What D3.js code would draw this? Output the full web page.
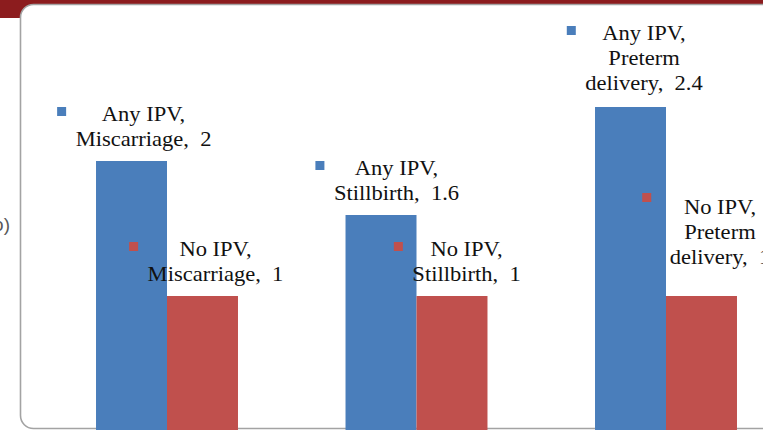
<!DOCTYPE html>
<html>
<head>
<meta charset="utf-8">
<script src="https://cdn.jsdelivr.net/npm/d3@7"></script>
<style>
  html, body { margin: 0; padding: 0; background: #ffffff; }
  svg { display: block; }
  .lbl { font-family: "Liberation Serif", "Times New Roman", serif; font-size: 20.5px; fill: #111; white-space: pre; }
</style>
</head>
<body>
<svg id="chart" width="763" height="430"></svg>
<script>
// Outcome categories and the two exposure groups
const categories = ["Miscarriage", "Stillbirth", "Preterm delivery"];
const seriesNames = ["Any IPV", "No IPV"];
const anyIpv = [2, 1.6, 2.4];
const noIpv = [1, 1, 1];
const seriesColors = ["#4a7ebb", "#c0504d"];

// Nudges for individual data labels: [text dx, text dy, key dx, key dy]
const labelNudge = [
  [[-1, 0, 0, 0], [0, 0, 0, 0]],
  [[2.5, 0, 0, 0], [1.5, 0, 0, 0]],
  [[0.5, -2, 0, 0], [5.5, -17, -9, -7]]
];

const W = 763, H = 430;
const svg = d3.select("#chart");

// Slide header band and framed panel
svg.append("rect").attr("x", 0).attr("y", 0).attr("width", W).attr("height", 18).attr("fill", "#8c1c1e");
svg.append("rect")
  .attr("x", 20.5).attr("y", 4.5).attr("width", 780).attr("height", 424)
  .attr("rx", 13).attr("ry", 13)
  .attr("fill", "#ffffff").attr("stroke", "#a3a3a3").attr("stroke-width", 1.6);

// Axis title, mostly outside the panel
svg.append("text")
  .attr("x", 10).attr("y", 231).attr("text-anchor", "end")
  .attr("font-family", "Liberation Sans, Arial, sans-serif").attr("font-size", 19)
  .attr("fill", "#595959").text("Ratio)");

const x0 = d3.scaleBand().domain(categories).range([42.25, 790.75])
  .paddingInner(0.431).paddingOuter(0.2155);
const x1 = d3.scaleBand().domain(seriesNames).range([0, x0.bandwidth()]).padding(0);
const y = d3.scaleLinear().domain([0, 3]).range([431, 26]);

const rows = categories.map((c, i) => ({
  category: c,
  values: [
    { series: seriesNames[0], value: anyIpv[i], color: seriesColors[0] },
    { series: seriesNames[1], value: noIpv[i], color: seriesColors[1] }
  ]
}));

const groups = svg.append("g").selectAll("g").data(rows).join("g")
  .attr("transform", d => `translate(${x0(d.category)},0)`);

groups.selectAll("rect").data(d => d.values).join("rect")
  .attr("x", d => x1(d.series))
  .attr("y", d => y(d.value))
  .attr("width", x1.bandwidth())
  .attr("height", d => y(0) - y(d.value))
  .attr("fill", d => d.color);

// Data labels: series name, category and value, with a colour key
const lineH = 25;
const stretch = 1.1;
rows.forEach((row, ci) => {
  row.values.forEach((v, si) => {
    const words = row.category.split(" ");
    const lines = [v.series + ","];
    if (words.length > 1) {
      lines.push(words.slice(0, -1).join(" "));
      lines.push(words[words.length - 1] + ",  " + v.value);
    } else {
      lines.push(row.category + ",  " + v.value);
    }
    const n = labelNudge[ci][si];
    const cx = x0(row.category) + x1(v.series) + x1.bandwidth() / 2 + 13 + n[0];
    const lastBase = y(v.value) - 14.5 + n[1];
    const firstBase = lastBase - (lines.length - 1) * lineH;
    const g = svg.append("g");
    const tg = g.append("g").attr("transform", `translate(${cx},0) scale(${stretch},1)`);
    const texts = tg.selectAll("text").data(lines).join("text")
      .attr("class", "lbl")
      .attr("x", 0)
      .attr("y", (d, i) => firstBase + i * lineH)
      .attr("text-anchor", "middle")
      .text(d => d);
    let maxW = 0;
    texts.each(function () { maxW = Math.max(maxW, this.getComputedTextLength() * stretch); });
    const mx = cx - maxW / 2 - 14 + n[2];
    g.append("rect")
      .attr("x", mx - 4.5).attr("y", firstBase - 10 - 4.5 + n[3])
      .attr("width", 9).attr("height", 9)
      .attr("fill", v.color);
  });
});
</script>
</body>
</html>
